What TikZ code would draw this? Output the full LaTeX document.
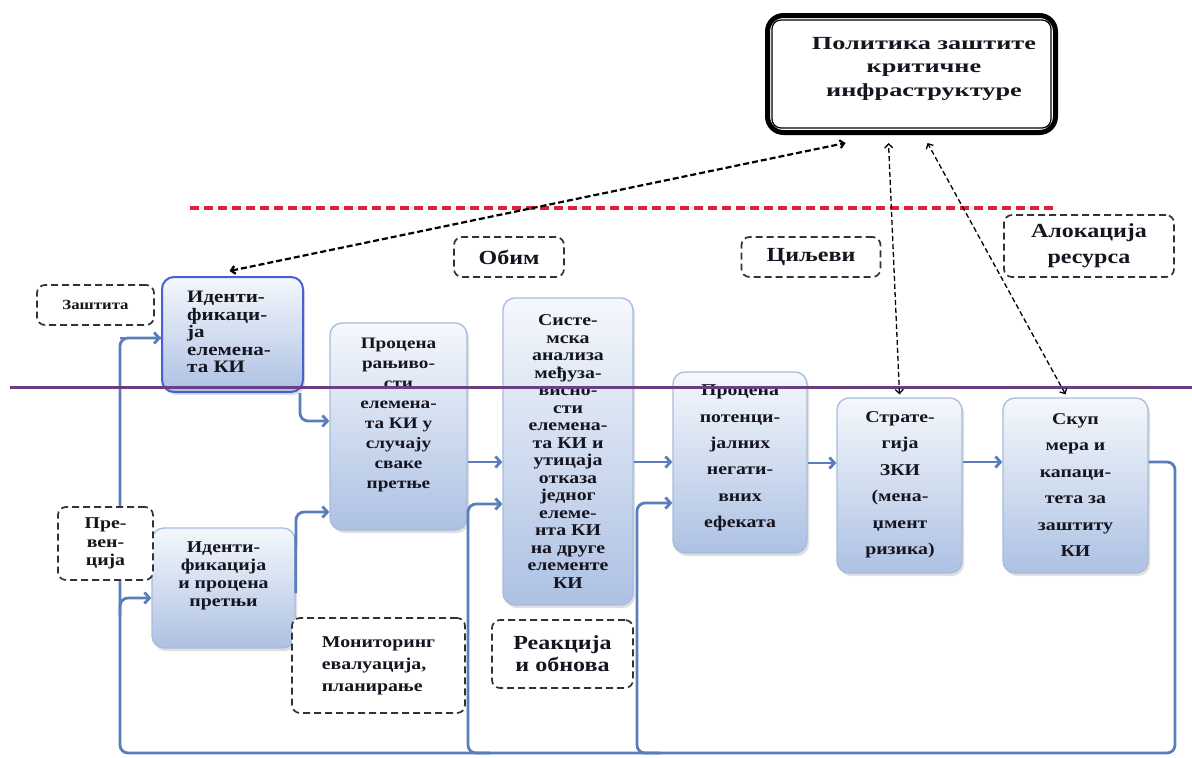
\documentclass[tikz,border=0pt]{standalone}
\usepackage{fontspec}
\setmainfont{Liberation Serif}[FakeStretch=1.2]
\newfontfamily\polfont{Liberation Serif}[FakeStretch=1.42]
\usetikzlibrary{arrows.meta,shadows}
\definecolor{boxtop}{HTML}{F5F8FC}
\definecolor{boxbot}{HTML}{ADC1E3}
\definecolor{boxline}{HTML}{A6BCDD}
\definecolor{bonesel}{HTML}{4A5FD2}
\definecolor{conncol}{HTML}{5A7EBC}
\definecolor{purp}{HTML}{6C3E82}
\definecolor{redd}{HTML}{E0203A}
\definecolor{txt}{HTML}{15151F}
\newcommand{\fs}[2]{\fontsize{#1}{#2}\selectfont\bfseries}
\begin{document}
\begin{tikzpicture}[x=1pt,y=-1pt,
 pbox/.style={draw=boxline, line width=1.3pt, rounded corners=12pt, top color=boxtop, bottom color=boxbot,
   drop shadow={opacity=0.25,shadow xshift=2pt,shadow yshift=-3pt}, inner sep=0pt},
 btext/.style={font=\fs{16.5}{17.5}, text=txt, align=center, inner sep=0pt},
 lbox/.style={draw=black!80, line width=1.7pt, dash pattern=on 7pt off 4pt, rounded corners=8pt, fill=white,
   inner sep=0pt, font=\fs{14}{16}, text=txt, align=center},
 conn/.style={draw=conncol, line width=2.8pt, rounded corners=8pt, -{Straight Barb[length=5pt,width=11pt]}},
 feed/.style={draw=conncol, line width=2.8pt, rounded corners=8pt},
 dconn/.style={draw=black, line width=1.3pt, dash pattern=on 5pt off 3pt,
   {Straight Barb[length=4pt,width=8pt]}-{Straight Barb[length=4pt,width=8pt]}},
]
\useasboundingbox[fill=white] (0,0) rectangle (1192,758);

% named free ends of the feedback loop
\coordinate (loopRT) at (1175,462);
\coordinate (loopRB) at (1175,753);
\coordinate (loopLB) at (120,753);
\coordinate (loopLT) at (120,338);
\coordinate (brA) at (120,615);
\coordinate (brB) at (490,753);
\coordinate (brC) at (660,753);
\coordinate (midA) at (468,753);
\coordinate (midB) at (637,753);

% process boxes
\node[pbox, draw=bonesel, line width=2pt, minimum width=141pt, minimum height=115pt] (b1) at (232.5,334.5) {};
\node[pbox, minimum width=143pt, minimum height=120pt] (b2) at (223.5,588) {};
\node[pbox, minimum width=137pt, minimum height=207pt] (b3) at (398.5,426.5) {};
\node[pbox, minimum width=130pt, minimum height=307pt] (b4) at (568,451.5) {};
\node[pbox, minimum width=134pt, minimum height=181pt] (b5) at (740,462.5) {};
\node[pbox, minimum width=125pt, minimum height=175pt] (b6) at (899.5,485.5) {};
\node[pbox, minimum width=145pt, minimum height=175pt] (b7) at (1075.5,485.5) {};

% feedback loop and arrows
\draw[feed] (b7.east |- loopRT) -- (loopRT) -- (loopRB) -- (loopLB) -- (loopLT) -- (b1.west |- loopLT);
\draw[conn] (loopLT) -- (b1.west |- loopLT);
\draw[conn] (brA) -- (120,598) -- (b2.west |- 0,598);
\draw[conn] (brB) -- (midA) -- (468,504) -- (b4.west |- 0,504);
\draw[conn] (brC) -- (midB) -- (637,503) -- (b5.west |- 0,503);
\draw[conn] ([xshift=-4pt]b1.south east) -- (300,421) -- (b3.west |- 0,421);
\draw[conn] (b2.east |- 0,593) -- (296,512) -- (b3.west |- 0,512);
\draw[conn] (b3.east |- 0,462) -- (b4.west |- 0,462);
\draw[conn] (b4.east |- 0,462) -- (b5.west |- 0,462);
\draw[conn] (b5.east |- 0,463) -- (b6.west |- 0,463);
\draw[conn] (b6.east |- 0,462) -- (b7.west |- 0,462);

% texts of process boxes
\node[btext, font=\fs{17.5}{17.5}, align=left, anchor=west] (b1t) at (187,332) {Иденти-\\фикаци-\\ја\\елемена-\\та КИ};
\node[btext, font=\fs{16.5}{18}] (b2t) at (223.5,576) {Иденти-\\фикација\\и процена\\претњи};
\node[btext, font=\fs{16}{20}] (b3t) at (398.5,415) {Процена\\рањиво-\\сти\\елемена-\\та КИ у\\случају\\сваке\\претње};
\node[btext] (b4t) at (568,451.5) {Систе-\\мска\\анализа\\међуза-\\висно-\\сти\\елемена-\\та КИ и\\утицаја\\отказа\\једног\\елеме-\\нта КИ\\на друге\\елементе\\КИ};
\node[btext, font=\fs{16.5}{26.4}] (b5t) at (740,458) {Процена\\потенци-\\јалних\\негати-\\вних\\ефеката};
\node[btext, font=\fs{16.5}{26.5}] (b6t) at (900,485) {Страте-\\гија\\ЗКИ\\(мена-\\џмент\\ризика)};
\node[btext, font=\fs{16.5}{26.5}] (b7t) at (1075.5,485) {Скуп\\мера и\\капаци-\\тета за\\заштиту\\КИ};

% dashed label boxes
\node[lbox, minimum width=117pt, minimum height=40pt, font=\fs{14}{14}] (zas) at (95.5,305) {Заштита};
\node[lbox, minimum width=110pt, minimum height=40pt, font=\fs{20}{20}] (obim) at (509,257) {Обим};
\node[lbox, minimum width=139pt, minimum height=40pt, font=\fs{20}{20}] (cil) at (811,257) {Циљеви};
\node[lbox, minimum width=170pt, minimum height=62pt, font=\fs{20}{26}] (aloc) at (1089,246) {Алокација\\ресурса};
\node[lbox, minimum width=95pt, minimum height=73pt, font=\fs{16.5}{18.5}] (prev) at (105.5,543.5) {Пре-\\вен-\\ција};
\node[lbox, minimum width=173pt, minimum height=95pt, align=left, font=\fs{16.5}{22}] (mon) at (378.5,665.5) {Мониторинг\\евалуација,\\планирање};
\node[lbox, minimum width=141pt, minimum height=68pt, font=\fs{20}{22}] (reak) at (562.5,654) {Реакција\\и обнова};

% policy box
\node[draw=black, line width=5pt, rounded corners=16pt, fill=white, minimum width=288pt, minimum height=117pt] (pol) at (911.5,74) {};
\draw[line width=1.2pt, rounded corners=9pt] ([shift={(7,7)}]pol.north west) rectangle ([shift={(-7,-7)}]pol.south east);
\node[font=\polfont\fontsize{18.5}{23.5}\selectfont\bfseries, text=txt, align=center] (polt) at (924,68.5) {Политика заштите\\критичне\\инфраструктуре};

% separator lines
\draw[redd, line width=3.5pt, dash pattern=on 9pt off 5pt] (190,208) -- (1055,208);
\draw[purp, line width=3pt] (10,387) -- (1192,387);

% dashed connectors to the policy
\draw[dconn, line width=2.2pt, dash pattern=on 6pt off 3pt] ([xshift=-3pt,yshift=5pt]b1.north) -- ([xshift=-66pt,yshift=-8pt]pol.south);
\draw[dconn] ([yshift=3pt]b6.north) -- ([xshift=-23pt,yshift=-8pt]pol.south);
\draw[dconn] ([xshift=-10pt,yshift=3pt]b7.north) -- ([xshift=16pt,yshift=-8pt]pol.south);
\end{tikzpicture}
\end{document}
